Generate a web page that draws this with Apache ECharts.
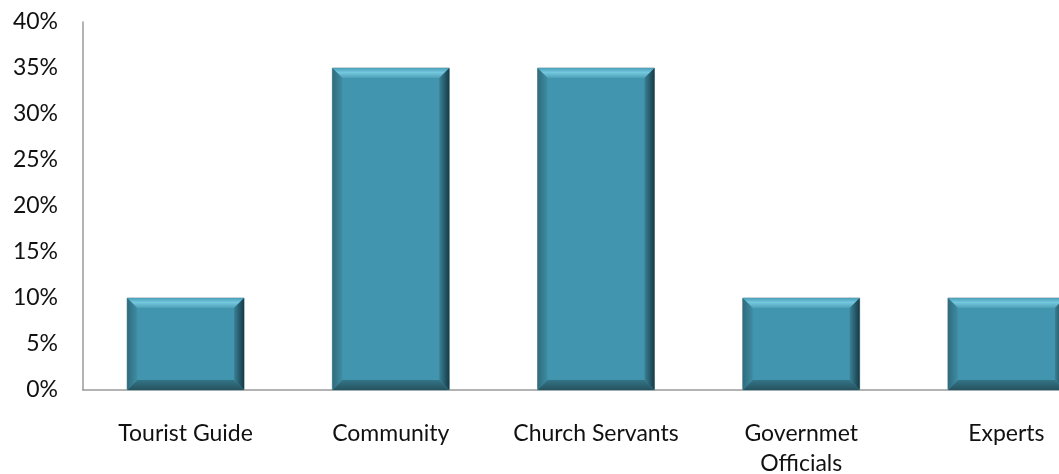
<!DOCTYPE html>
<html>
<head>
<meta charset="utf-8">
<script src="https://cdn.jsdelivr.net/npm/echarts@6/dist/echarts.min.js"></script>
<style>
  html, body { margin: 0; padding: 0; background: #fff; }
  #cn { width: 1059px; height: 474px; }
</style>
</head>
<body>
<div id="cn"></div>
<script>
'use strict';

// categories + share of respondents (%)
const categories = ['Tourist Guide', 'Community', 'Church Servants', 'Governmet\nOfficials', 'Experts'];
const shares = [10, 35, 35, 10, 10];

const chart = echarts.init(document.getElementById('cn'));

// beveled bar, like the office 3d bar style
function renderBevelBar(params, api) {
    const base = api.coord([api.value(0), 0]);
    const top = api.coord([api.value(0), api.value(1)]);
    const w = api.size([1, 0])[0] * 0.57;
    const x0 = top[0] - w / 2, x1 = x0 + w;
    const y0 = top[1], y1 = base[1];
    const b = 10;
    return {
        type: 'group',
        children: [
            { type: 'rect', shape: { x: x0, y: y0, width: w, height: y1 - y0 },
              style: { fill: '#4295ae', stroke: '#8fa9b0', lineWidth: 1 } },
            { type: 'polygon', shape: { points: [[x0, y0], [x1, y0], [x1 - b, y0 + b], [x0 + b, y0 + b]] },
              style: { fill: new echarts.graphic.LinearGradient(0, 0, 0, 1, [
                  { offset: 0, color: '#4a9fb8' }, { offset: 0.45, color: '#74c8de' }, { offset: 1, color: '#4d9fb6' }]) } },
            { type: 'polygon', shape: { points: [[x1, y0], [x1, y1], [x1 - b, y1 - b], [x1 - b, y0 + b]] },
              style: { fill: new echarts.graphic.LinearGradient(0, 0, 1, 0, [
                  { offset: 0, color: '#3a8196' }, { offset: 1, color: '#163a45' }]) } },
            { type: 'polygon', shape: { points: [[x0, y1], [x1, y1], [x1 - b, y1 - b], [x0 + b, y1 - b]] },
              style: { fill: new echarts.graphic.LinearGradient(0, 0, 0, 1, [
                  { offset: 0, color: '#347487' }, { offset: 1, color: '#25535f' }]) } },
            { type: 'polygon', shape: { points: [[x0, y0], [x0, y1], [x0 + b, y1 - b], [x0 + b, y0 + b]] },
              style: { fill: new echarts.graphic.LinearGradient(0, 0, 1, 0, [
                  { offset: 0, color: '#2f6b7d' }, { offset: 1, color: '#3f8ca3' }]) } }
        ]
    };
}

const option = {
    animation: false,
    textStyle: { fontFamily: 'Lato, "Open Sans", sans-serif' },
    grid: {
        left: 83,
        top: 22,
        right: -50,
        bottom: 84,
        containLabel: false,
        outerBoundsMode: 'none'
    },
    xAxis: {
        type: 'category',
        data: categories,
        axisLine: { lineStyle: { color: '#9a9a9a', width: 1.5 } },
        axisTick: { show: false },
        axisLabel: { color: '#111', fontSize: 23, margin: 29, lineHeight: 30, interval: 0 }
    },
    yAxis: {
        type: 'value',
        min: 0,
        max: 40,
        interval: 5,
        axisLine: { show: true, lineStyle: { color: '#9a9a9a', width: 1.5 } },
        axisTick: { show: false },
        splitLine: { show: false },
        axisLabel: { color: '#111', fontSize: 23, margin: 25, formatter: '{value}%' }
    },
    series: [{
        type: 'custom',
        renderItem: renderBevelBar,
        encode: { x: 0, y: 1 },
        data: shares.map((v, i) => [i, v])
    }]
};

chart.setOption(option);
</script>
</body>
</html>
